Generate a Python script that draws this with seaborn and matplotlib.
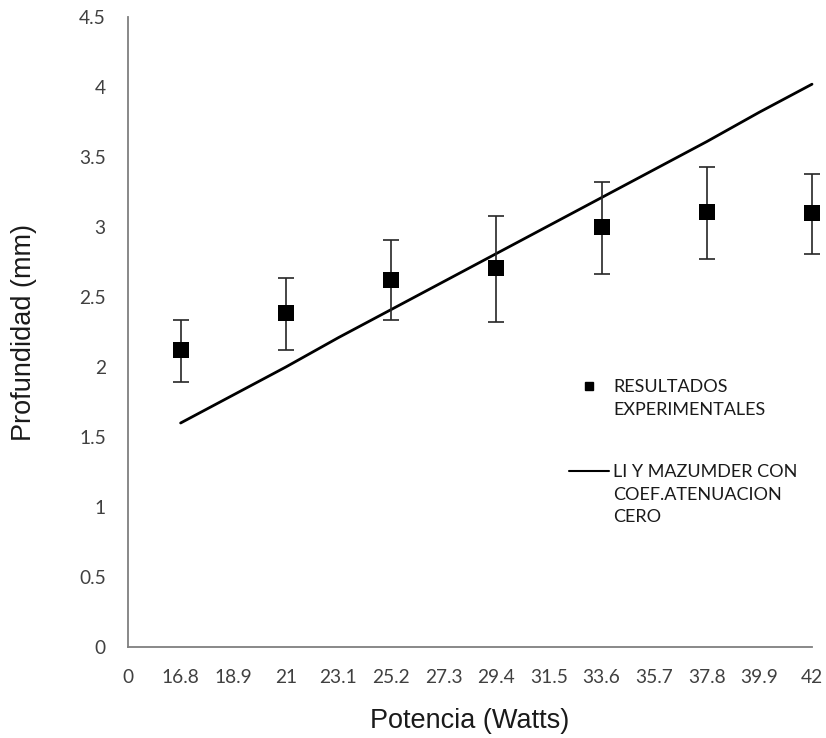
import numpy as np
import pandas as pd
import matplotlib
matplotlib.use("Agg")
import matplotlib.pyplot as plt
from matplotlib.lines import Line2D
import seaborn as sns

# Category axis (power in watts)
potencias = ["0", "16.8", "18.9", "21", "23.1", "25.2", "27.3",
             "29.4", "31.5", "33.6", "35.7", "37.8", "39.9", "42"]

# Experimental results with error bounds (mm)
exp_potencia = ["16.8", "21", "25.2", "29.4", "33.6", "37.8", "42"]
exp_prof = [2.12, 2.385, 2.62, 2.71, 3.00, 3.105, 3.10]
exp_inf = [1.89, 2.12, 2.335, 2.32, 2.665, 2.77, 2.81]
exp_sup = [2.335, 2.635, 2.91, 3.08, 3.32, 3.43, 3.38]

# Li & Mazumder model with zero attenuation coefficient
mod_potencia = ["16.8", "18.9", "21", "23.1", "25.2", "27.3", "29.4",
                "31.5", "33.6", "35.7", "37.8", "39.9", "42"]
mod_prof = [1.60, 1.80, 2.00, 2.21, 2.41, 2.61, 2.81,
            3.01, 3.21, 3.41, 3.61, 3.82, 4.02]

sns.set_style("white")
plt.rcParams["font.family"] = ["Lato", "DejaVu Sans"]

pos = {c: i for i, c in enumerate(potencias)}
df_exp = pd.DataFrame({"x": [pos[c] for c in exp_potencia], "y": exp_prof,
                       "lo": exp_inf, "hi": exp_sup})
df_mod = pd.DataFrame({"x": [pos[c] for c in mod_potencia], "y": mod_prof})

fig = plt.figure(figsize=(8.26, 7.38), dpi=100)
ax = fig.add_axes([128 / 826, 1 - 647 / 738, (812 - 128) / 826, (647 - 17) / 738])

sns.lineplot(data=df_mod, x="x", y="y", ax=ax, color="black", linewidth=2.0,
             zorder=2, clip_on=False)
eb = ax.errorbar(df_exp["x"], df_exp["y"],
                 yerr=[df_exp["y"] - df_exp["lo"], df_exp["hi"] - df_exp["y"]],
                 fmt="none", ecolor="#262626", elinewidth=1.2, capsize=6,
                 capthick=1.2, zorder=3)
for part in eb.lines:
    if part is None:
        continue
    for art in (part if isinstance(part, (tuple, list)) else [part]):
        art.set_clip_on(False)
sns.scatterplot(data=df_exp, x="x", y="y", ax=ax, marker="s", s=140,
                color="black", edgecolor="black", linewidth=0, zorder=4,
                clip_on=False)

ax.set_xlim(0, len(potencias) - 1)
ax.set_ylim(0, 4.5)
ax.set_xticks(range(len(potencias)))
ax.set_xticklabels(potencias)
ax.set_yticks(np.arange(0, 4.51, 0.5))
ax.set_yticklabels(["0", "0.5", "1", "1.5", "2", "2.5", "3", "3.5", "4", "4.5"])

for side in ["top", "right"]:
    ax.spines[side].set_visible(False)
for side in ["left", "bottom"]:
    ax.spines[side].set_color("#7f7f7f")
    ax.spines[side].set_linewidth(1.3)

ax.tick_params(axis="both", which="major", direction="out", length=6,
               width=1.3, color="#7f7f7f", labelcolor="#404040",
               labelsize=13.8)
ax.tick_params(axis="y", pad=10)
ax.tick_params(axis="x", pad=10)

ax.set_xlabel("Potencia (Watts)", fontsize=19.5, family="Liberation Sans",
              color="#1a1a1a", labelpad=16)
ax.set_ylabel("Profundidad (mm)", fontsize=19.5, family="Liberation Sans",
              color="#1a1a1a", labelpad=30)

# Legend: handle sits beside the first line of each entry
blank = Line2D([], [], linestyle="none", marker="none")
leg_kw = dict(frameon=False, fontsize=13, handlelength=2.2,
              handletextpad=0.25, labelspacing=0.37, borderpad=0,
              borderaxespad=0, bbox_transform=fig.transFigure,
              loc="upper left")
leg1 = ax.legend(
    [Line2D([], [], marker="s", linestyle="none", color="black", markersize=5.5),
     blank],
    ["RESULTADOS", "EXPERIMENTALES"],
    bbox_to_anchor=(569 / 826, 1 - 379 / 738), **leg_kw)
ax.add_artist(leg1)
leg2 = ax.legend(
    [Line2D([], [], color="black", linewidth=1.5), blank, blank],
    ["LI Y MAZUMDER CON", "COEF.ATENUACION", "CERO"],
    bbox_to_anchor=(569 / 826, 1 - 464 / 738), **leg_kw)
for lg in (leg1, leg2):
    for t in lg.get_texts():
        t.set_color("#1a1a1a")

fig.savefig("out.png", dpi=100)
